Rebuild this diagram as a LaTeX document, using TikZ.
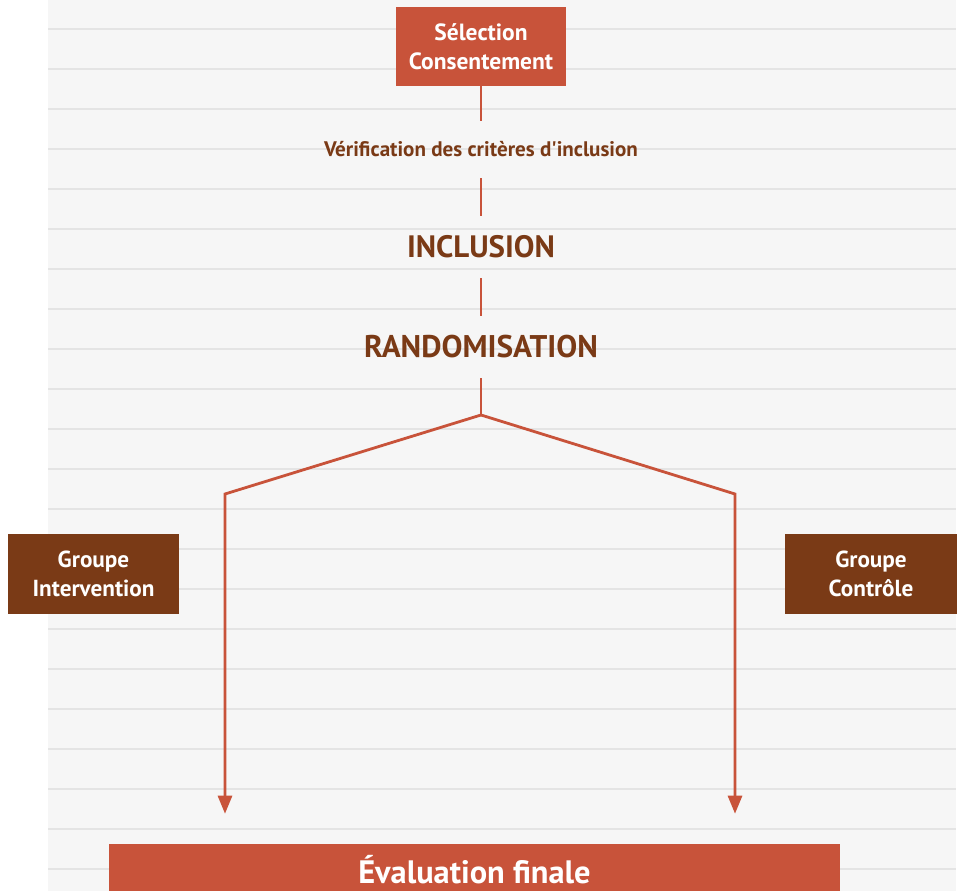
\documentclass[tikz,border=0pt]{standalone}
\usepackage{fontspec}
\setmainfont{PT Sans}[Ligatures=TeXOff]
\usetikzlibrary{arrows.meta}
\definecolor{panelgray}{HTML}{F6F6F6}
\definecolor{ruleline}{HTML}{E4E4E4}
\definecolor{rust}{HTML}{C8533A}
\definecolor{brownish}{HTML}{7A3A16}
\tikzset{
  orangebox/.style={fill=rust, text=white, font=\bfseries\fontsize{17.6}{21.75}\selectfont,
    align=center, inner sep=0pt},
  brownbox/.style={fill=brownish, text=white, font=\bfseries\fontsize{17.4}{21.75}\selectfont,
    align=center, inner sep=0pt, minimum width=128.5pt, minimum height=60pt},
  steplabel/.style={text=brownish, inner sep=0pt, align=center},
  flow/.style={draw=rust, line width=2.1pt},
}
\begin{document}
\begin{tikzpicture}[x=0.75pt, y=-0.75pt]
  \useasboundingbox (0,0) rectangle (959,891);
  \clip (0,0) rectangle (959,891);
  % ruled background panel
  \fill[white] (0,0) rectangle (959,891);
  \fill[panelgray] (48,0) rectangle (956,891);
  \foreach \k in {0,...,21}
    \draw[ruleline, line width=1.5pt] (48,29+40*\k) -- (956,29+40*\k);

  % boxes
  \node[orangebox, minimum width=127.5pt, minimum height=59.25pt] (sel) at (481,46.5)
    {Sélection\\Consentement};
  \node[brownbox] (gi) at (93.5,574) {Groupe\\Intervention};
  \node[brownbox, minimum width=129pt] (gc) at (871,574) {Groupe\\Contrôle};
  \node[orangebox, font=\bfseries\fontsize{24.3}{28}\selectfont,
    minimum width=548.25pt, minimum height=39pt] (eval) at (474.5,870) {Évaluation finale};

  % step labels
  \node[steplabel, font=\bfseries\fontsize{15.8}{18}\selectfont, minimum height=42.75pt]
    (verif) at (481,149.5) {Vérification des critères d'inclusion};
  \node[steplabel, font=\bfseries\fontsize{23.2}{26}\selectfont, minimum height=46.5pt]
    (incl) at (481,247) {INCLUSION};
  \node[steplabel, font=\bfseries\fontsize{23.5}{26}\selectfont, minimum height=46.5pt]
    (rando) at (481,347) {RANDOMISATION};

  % branching points
  \coordinate (split) at (481,415);
  \coordinate (lt) at (225,494);
  \coordinate (rt) at (735,494);

  % connectors
  \draw[flow] (sel.south) -- (verif.north);
  \draw[flow] (verif.south) -- (incl.north);
  \draw[flow] (incl.south) -- (rando.north);
  \draw[flow, line join=miter] (rando.south) -- (split);
  \draw[flow, line join=miter, -{Triangle[length=13.5pt, width=10.5pt]}, shorten >=22.5pt]
    (split) -- (lt) -- (lt |- eval.north);
  \draw[flow, line join=miter, -{Triangle[length=13.5pt, width=10.5pt]}, shorten >=22.5pt]
    (split) -- (rt) -- (rt |- eval.north);
\end{tikzpicture}
\end{document}
